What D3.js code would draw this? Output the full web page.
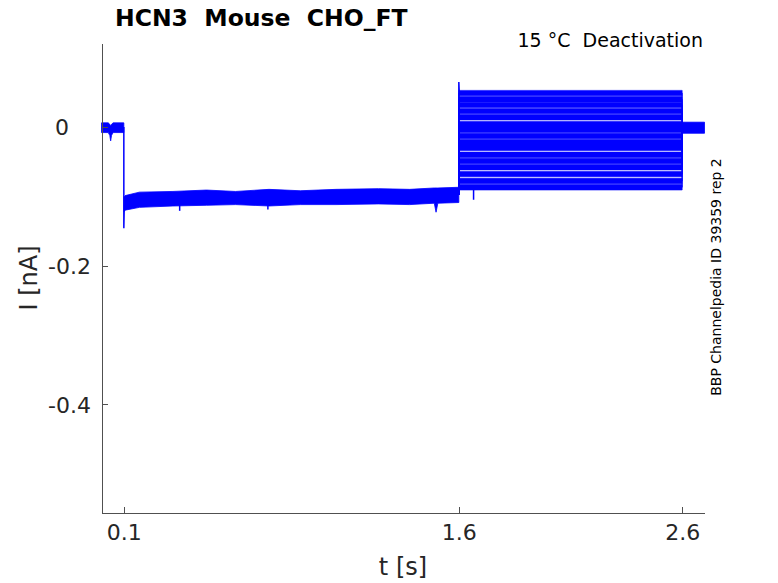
<!DOCTYPE html>
<html lang="en">
<head>
  <meta charset="UTF-8">
  <title>HCN3 Mouse CHO_FT - 15 °C Deactivation</title>
  <script src="https://d3js.org/d3.v7.min.js"></script>
  <style>
    body {
      margin: 0;
      background: #fff;
      font-family: "DejaVu Sans", sans-serif;
    }
    svg text {
      white-space: pre;
    }
    .axis path, .axis line {
      stroke: #505050;
      shape-rendering: crispEdges;
    }
    .axis text {
      fill: #262626;
      font-size: 22px;
      font-family: "DejaVu Sans", sans-serif;
    }
  </style>
</head>
<body>
  <div id="chart"></div>

  <script>
    // time [s] and current [nA]
    const holdTimes = [0, 0.03, 0.037, 0.041, 0.045, 0.052, 0.1];
    const holdHi    = [0.006, 0.006, 0.004, 0.002, 0.004, 0.006, 0.006];
    const holdLo    = [-0.008, -0.008, -0.012, -0.020, -0.012, -0.008, -0.008];

    const stepTimes = [0.101, 0.106, 0.17, 0.32, 0.47, 0.6, 0.75, 0.89, 1.05, 1.24, 1.38, 1.49, 1.498, 1.506, 1.6];
    const stepHi    = [-0.101, -0.099, -0.094, -0.093, -0.091, -0.093, -0.090, -0.092, -0.090, -0.089, -0.090, -0.088, -0.088, -0.088, -0.087];
    const stepLo    = [-0.122, -0.120, -0.116, -0.114, -0.113, -0.112, -0.114, -0.112, -0.112, -0.111, -0.112, -0.110, -0.123, -0.110, -0.109];

    // tail current level of each sweep during the test pulse (1.6 - 2.6 s)
    const sweepLevels = [0.049, 0.040, 0.032, 0.023, 0.014, 0.004, -0.004, -0.013,
                         -0.022, -0.030, -0.040, -0.049, -0.058, -0.068, -0.078, -0.087];
    const sweepNoise = 0.0039;
    const testStart = 1.6, testEnd = 2.6;
    const stepLevelEnd = -0.098;

    const postTimes = [2.6, 2.7];
    const postHi    = [0.007, 0.007];
    const postLo    = [-0.009, -0.009];

    // capacitive transients and glitches
    const onsetT = [0.1, 0.1, 0.102];
    const onsetI = [0, -0.146, -0.112];
    const jumpT  = [1.6, 1.6, 1.602];
    const jumpI  = [-0.098, 0.065, 0.049];
    const glitchT    = [0.35, 0.745, 1.666];
    const glitchFrom = [-0.112, -0.112, -0.087];
    const glitchTo   = [-0.121, -0.119, -0.105];

    const xTicks = [0.1, 1.6, 2.6];
    const yTicks = [0, -0.2, -0.4];

    const width = 778;
    const height = 583;
    const color = "#0000ff";

    const x = d3.scaleLinear().domain([0, 2.7]).range([101.5, 704.5]);
    const y = d3.scaleLinear().domain([-0.5565, 0.1213]).range([512.5, 43]);

    const svg = d3.select("#chart").append("svg")
      .attr("width", width)
      .attr("height", height);

    const band = d3.area()
      .x(d => x(d.t))
      .y0(d => y(d.lo))
      .y1(d => y(d.hi));

    const line = d3.line()
      .x(d => x(d[0]))
      .y(d => y(d[1]));

    const toBand = (ts, hi, lo) => ts.map((t, i) => ({ t, hi: hi[i], lo: lo[i] }));

    const traces = svg.append("g");

    // shared parts of all sweeps (they overlap)
    [toBand(holdTimes, holdHi, holdLo),
     toBand(stepTimes, stepHi, stepLo),
     toBand(postTimes, postHi, postLo)].forEach(seg => {
      traces.append("path")
        .attr("d", band(seg))
        .attr("fill", color)
        .attr("stroke", color)
        .attr("stroke-width", 0.8);
    });

    // each sweep: jump to its level, tail current, return to holding
    sweepLevels.forEach(level => {
      const seg = [testStart, testEnd].map(t => ({ t, hi: level + sweepNoise, lo: level - sweepNoise }));
      traces.append("path")
        .attr("d", band(seg))
        .attr("fill", color)
        .attr("stroke", color)
        .attr("stroke-width", 0.6);
      traces.append("path")
        .attr("d", line([[testStart, stepLevelEnd], [testStart, level], [testEnd, level], [testEnd, 0]]))
        .attr("fill", "none")
        .attr("stroke", color)
        .attr("stroke-width", 1);
    });

    traces.append("path")
      .attr("d", line(onsetT.map((t, i) => [t, onsetI[i]])))
      .attr("fill", "none").attr("stroke", color).attr("stroke-width", 1.5);
    traces.append("path")
      .attr("d", line(jumpT.map((t, i) => [t, jumpI[i]])))
      .attr("fill", "none").attr("stroke", color).attr("stroke-width", 1.5);
    glitchT.forEach((t, i) => {
      traces.append("path")
        .attr("d", line([[t, glitchFrom[i]], [t, glitchTo[i]]]))
        .attr("fill", "none").attr("stroke", color).attr("stroke-width", 1.5);
    });

    // axes
    svg.append("g")
      .attr("class", "axis")
      .attr("transform", `translate(0,${y.range()[0]})`)
      .call(d3.axisBottom(x).tickValues(xTicks).tickSizeInner(-6).tickSizeOuter(0)
        .tickPadding(12).tickFormat(d => String(d)));

    const yAxis = svg.append("g")
      .attr("class", "axis")
      .attr("transform", `translate(${x.range()[0]},0)`)
      .call(d3.axisLeft(y).tickValues(yTicks).tickSizeInner(-6).tickSizeOuter(0)
        .tickPadding(10.5).tickFormat(d => String(d)));
    yAxis.selectAll(".tick text")
      .attr("dx", d => d === 0 ? -22 : 0)
      .attr("dy", "0.36em");

    // labels
    svg.append("text")
      .attr("x", 403).attr("y", 575)
      .attr("text-anchor", "middle")
      .attr("fill", "#262626")
      .style("font-size", "24px")
      .text("t [s]");

    svg.append("text")
      .attr("transform", "translate(37,278) rotate(-90)")
      .attr("text-anchor", "middle")
      .attr("fill", "#262626")
      .style("font-size", "24px")
      .text("I [nA]");

    svg.append("text")
      .attr("x", 115).attr("y", 26)
      .attr("fill", "#000")
      .style("font-size", "23.5px")
      .style("font-weight", "bold")
      .text("HCN3  Mouse  CHO_FT");

    svg.append("text")
      .attr("x", 703).attr("y", 47)
      .attr("text-anchor", "end")
      .attr("fill", "#000")
      .style("font-size", "19px")
      .text("15 °C  Deactivation");

    svg.append("text")
      .attr("transform", "translate(721,277) rotate(-90)")
      .attr("text-anchor", "middle")
      .attr("fill", "#000")
      .style("font-size", "14px")
      .text("BBP Channelpedia ID 39359 rep 2");
  </script>
</body>
</html>
